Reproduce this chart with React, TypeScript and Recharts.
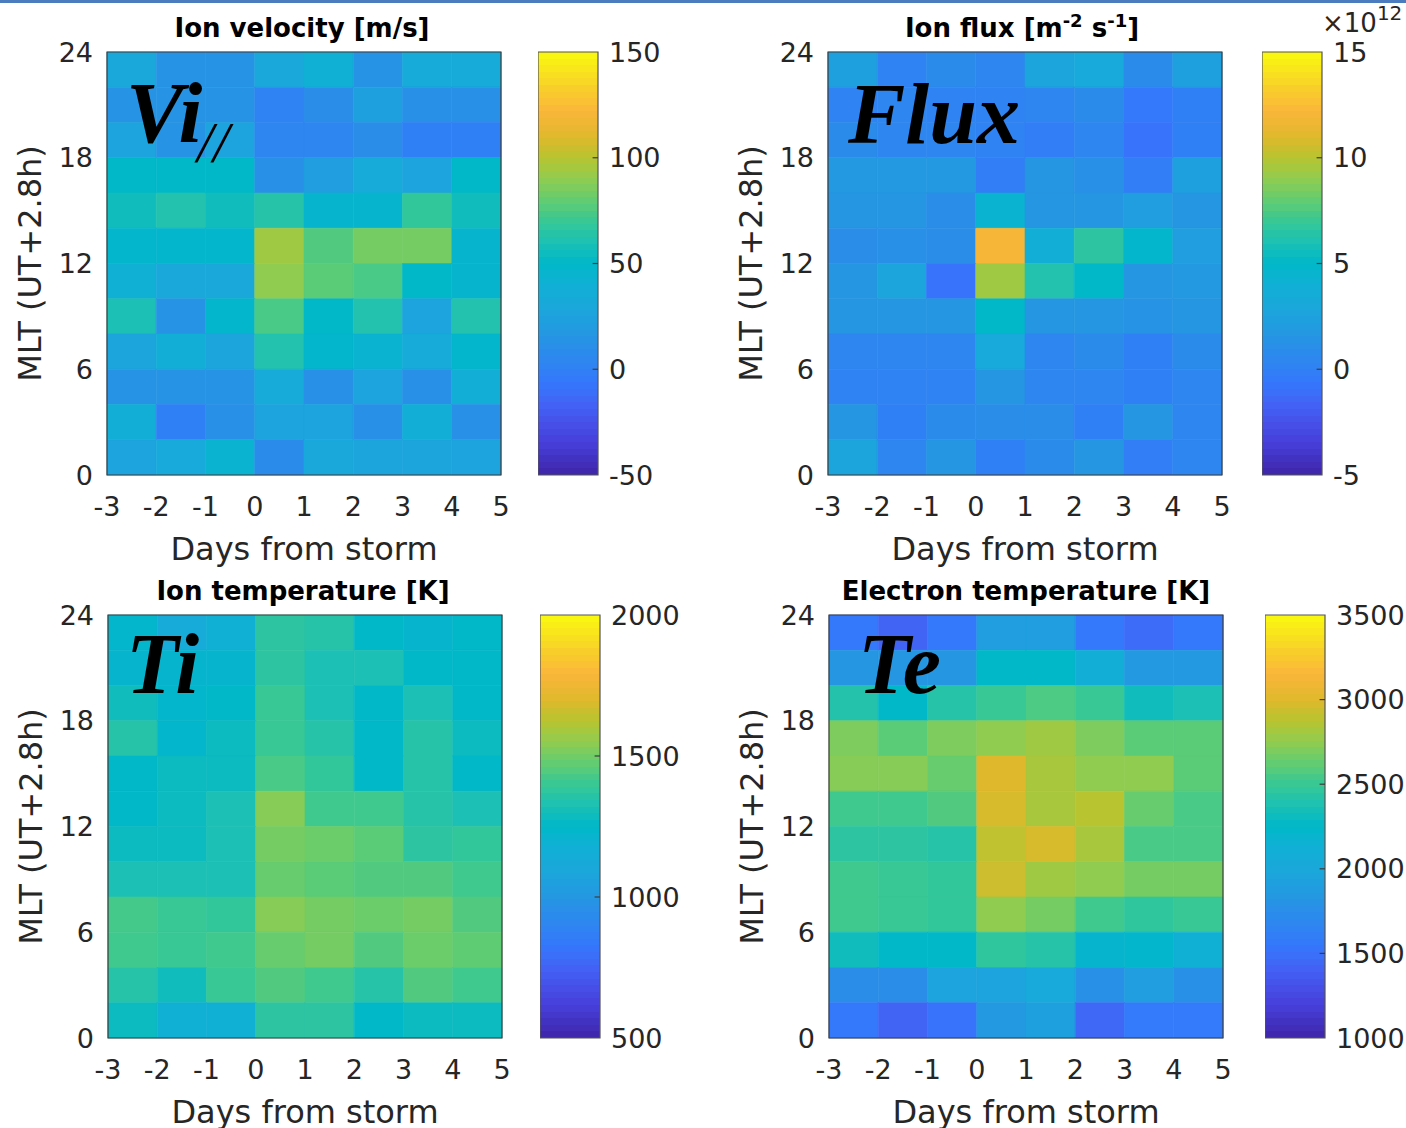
import React from 'react';
import { ComposedChart, XAxis, YAxis, ReferenceArea, ReferenceLine, Scatter, Label } from 'recharts';

// cell edges along x (days) and the MLT start of each row, top row first
const days = [-3, -2, -1, 0, 1, 2, 3, 4, 5];
const mltRows = [22, 20, 18, 16, 14, 12, 10, 8, 6, 4, 2, 0];
const mltTicks = [0, 6, 12, 18, 24];

// Ion velocity [m/s], rows from MLT 22-24 down to 0-2
const ionVelocity = [
  [30, 14, 14, 30, 40, 14, 34, 34],
  [14, 14, 14, 2, 10, 24, 12, 12],
  [26, 14, 26, 4, 4, 10, 0, 0],
  [50, 50, 50, 12, 22, 34, 26, 50],
  [56, 62, 56, 64, 46, 46, 68, 56],
  [48, 48, 48, 94, 76, 84, 84, 46],
  [40, 30, 30, 90, 78, 74, 50, 46],
  [60, 14, 48, 74, 50, 62, 26, 62],
  [28, 38, 28, 62, 48, 44, 34, 48],
  [14, 14, 14, 34, 12, 26, 12, 38],
  [38, 0, 12, 26, 26, 12, 38, 12],
  [26, 32, 44, 8, 30, 28, 28, 26],
];

// Ion flux [1e12 m^-2 s^-1]
const ionFlux = [
  [2.4, 0.2, 0.8, 0.4, 2.8, 3.2, 0.8, 2.4],
  [0.2, 0.4, 0.2, 0.2, 0.4, 0.8, -0.6, 0],
  [0.8, 0.4, 0.4, 0.2, -0.2, 0.4, -0.8, 0],
  [1.8, 1.8, 1.8, -0.2, 1.6, 1.2, -0.2, 2.4],
  [1.6, 1.6, 1.0, 4.4, 1.6, 1.6, 2.2, 1.6],
  [1.0, 1.2, 1.0, 12, 3.8, 6.6, 4.8, 2.2],
  [1.6, 2.8, -0.8, 9.4, 6.2, 5.0, 1.6, 1.8],
  [1.6, 1.6, 1.6, 5.0, 1.6, 1.6, 1.4, 1.6],
  [0.4, 0.4, 0.4, 3.2, 0.4, 0.8, 0, 0.8],
  [0.2, 0.2, 0.2, 1.6, 0.4, 0.4, 0, 0.4],
  [1.6, 0, 0.8, 1.0, 1.0, 0, 1.6, 0.4],
  [2.8, 0.4, 1.6, 0, 0.8, 1.6, -0.2, 0.4],
];

// Ion temperature [K]
const ionTemp = [
  [1235, 1130, 1175, 1370, 1355, 1250, 1220, 1250],
  [1220, 1220, 1220, 1370, 1325, 1325, 1250, 1250],
  [1295, 1235, 1250, 1400, 1325, 1250, 1325, 1250],
  [1355, 1235, 1280, 1400, 1355, 1250, 1355, 1280],
  [1250, 1280, 1280, 1430, 1385, 1250, 1355, 1250],
  [1250, 1280, 1325, 1535, 1415, 1415, 1355, 1325],
  [1280, 1280, 1325, 1505, 1490, 1460, 1370, 1385],
  [1325, 1325, 1325, 1482, 1460, 1445, 1445, 1415],
  [1422, 1400, 1385, 1535, 1505, 1490, 1505, 1445],
  [1415, 1400, 1415, 1482, 1505, 1445, 1490, 1468],
  [1355, 1295, 1400, 1445, 1415, 1355, 1445, 1415],
  [1280, 1175, 1175, 1370, 1370, 1250, 1280, 1280],
];

// Electron temperature [K]
const elecTemp = [
  [1550, 1425, 1550, 1900, 1900, 1550, 1475, 1550],
  [1825, 1825, 1825, 2250, 2250, 2100, 1850, 1850],
  [2412, 2250, 2425, 2500, 2562, 2500, 2325, 2375],
  [2700, 2600, 2700, 2750, 2800, 2700, 2600, 2600],
  [2725, 2725, 2637, 3000, 2825, 2750, 2750, 2600],
  [2525, 2525, 2575, 2975, 2825, 2875, 2637, 2550],
  [2450, 2450, 2425, 2900, 2975, 2825, 2550, 2550],
  [2525, 2500, 2475, 2937, 2800, 2750, 2675, 2675],
  [2525, 2500, 2475, 2750, 2675, 2525, 2462, 2500],
  [2325, 2250, 2250, 2462, 2425, 2200, 2225, 2125],
  [1750, 1750, 1950, 1950, 2025, 1775, 1900, 1775],
  [1550, 1425, 1525, 1850, 1925, 1450, 1575, 1575],
];

const velTicks = [-50, 0, 50, 100, 150];
const fluxTicks = [-5, 0, 5, 10, 15];
const tiTicks = [500, 1000, 1500, 2000];
const teTicks = [1000, 1500, 2000, 2500, 3000, 3500];

// parula-like colormap
const STOPS = [
  [0.0, 62, 38, 168],
  [0.08, 71, 63, 220],
  [0.16, 68, 96, 244],
  [0.22, 52, 120, 252],
  [0.27, 46, 134, 240],
  [0.33, 37, 150, 226],
  [0.4, 26, 168, 219],
  [0.45, 16, 176, 213],
  [0.5, 0, 184, 200],
  [0.55, 28, 192, 180],
  [0.6, 56, 200, 149],
  [0.65, 98, 204, 112],
  [0.7, 144, 204, 80],
  [0.75, 184, 196, 48],
  [0.8, 224, 184, 44],
  [0.86, 250, 182, 58],
  [0.92, 248, 210, 40],
  [1.0, 249, 251, 14],
];

function parula(t: number) {
  const f = Math.max(0, Math.min(1, t));
  for (let i = 1; i < STOPS.length; i++) {
    if (f <= STOPS[i][0]) {
      const a = STOPS[i - 1];
      const b = STOPS[i];
      const k = (f - a[0]) / (b[0] - a[0]);
      const c = [1, 2, 3].map((j) => Math.round(a[j] + (b[j] - a[j]) * k));
      return `rgb(${c[0]},${c[1]},${c[2]})`;
    }
  }
  return 'rgb(249,251,14)';
}

const TEXT = '#262626';
const tickStyle = { fontSize: 27, fill: TEXT, fontFamily: 'DejaVu Sans' };

const xLabel = (props: any) => {
  const vb = props.viewBox;
  return (
    <text x={vb.x + vb.width / 2} y={vb.y + 85} textAnchor="middle" fontSize={32} fill={TEXT} fontFamily="DejaVu Sans">
      Days from storm
    </text>
  );
};

const yLabel = (props: any) => {
  const vb = props.viewBox;
  const x = vb.x + 41;
  const y = vb.y + vb.height / 2;
  return (
    <text x={x} y={y} transform={`rotate(-90 ${x} ${y})`} textAnchor="middle" fontSize={32} fill={TEXT} fontFamily="DejaVu Sans">
      MLT (UT+2.8h)
    </text>
  );
};

function Heatmap({ plotX, plotY, values, lo, hi }: { plotX: number; plotY: number; values: number[][]; lo: number; hi: number }) {
  const cells: any[] = [];
  values.forEach((row, r) =>
    row.forEach((v, c) =>
      cells.push({
        x1: days[c],
        x2: days[c + 1],
        y1: mltRows[r],
        y2: mltRows[r] + 2,
        xc: (days[c] + days[c + 1]) / 2,
        yc: mltRows[r] + 1,
        color: parula((v - lo) / (hi - lo)),
      })
    )
  );
  return (
    <div style={{ position: 'absolute', left: plotX - 107, top: plotY - 52 }}>
      <ComposedChart width={107 + 394 + 10} height={580} margin={{ top: 52, right: 10, bottom: 0, left: 0 }} data={cells}>
        <XAxis type="number" dataKey="xc" domain={[-3, 5]} ticks={days} interval={0} allowDataOverflow height={105}
          tickSize={0} tickMargin={22} axisLine={false} tickLine={false} tick={tickStyle}>
          <Label content={xLabel} />
        </XAxis>
        <YAxis type="number" dataKey="yc" domain={[0, 24]} ticks={mltTicks} interval={0} allowDataOverflow width={107}
          tickSize={0} tickMargin={14} axisLine={false} tickLine={false} tick={tickStyle}>
          <Label content={yLabel} />
        </YAxis>
        {cells.map((c, i) => (
          <ReferenceArea key={i} x1={c.x1} x2={c.x2} y1={c.y1} y2={c.y2} fill={c.color} fillOpacity={1}
            stroke={c.color} strokeWidth={0.6} ifOverflow="visible" />
        ))}
        <ReferenceArea x1={-3} x2={5} y1={0} y2={24} fill="none" fillOpacity={0} stroke="#3c3c3c" strokeWidth={1.2} ifOverflow="visible" />
        <Scatter dataKey="yc" fill="none" shape={() => <g />} isAnimationActive={false} />
      </ComposedChart>
    </div>
  );
}

function ColorBar({ x, plotY, lo, hi, ticks }: { x: number; plotY: number; lo: number; hi: number; ticks: number[] }) {
  const n = 64;
  const steps = Array.from({ length: n }, (_, i) => ({
    y1: lo + ((hi - lo) * i) / n,
    y2: lo + ((hi - lo) * (i + 1)) / n,
    color: parula((i + 0.5) / n),
  }));
  return (
    <div style={{ position: 'absolute', left: x, top: plotY - 52 }}>
      <ComposedChart width={60 + 90} height={580} margin={{ top: 52, right: 0, bottom: 105, left: 0 }} data={[{ x: 0.5, y: lo }]}>
        <XAxis type="number" dataKey="x" domain={[0, 1]} hide />
        <YAxis type="number" orientation="right" domain={[lo, hi]} ticks={ticks} interval={0} allowDataOverflow width={90}
          tickSize={0} tickMargin={11} axisLine={false} tickLine={false} tick={tickStyle} />
        {steps.map((s, i) => (
          <ReferenceArea key={i} x1={0} x2={1} y1={s.y1} y2={s.y2} fill={s.color} fillOpacity={1} stroke="none"
            shapeRendering="crispEdges" ifOverflow="visible" />
        ))}
        {ticks.slice(1, -1).map((t) => (
          <ReferenceLine key={t} segment={[{ x: 0.91, y: t }, { x: 1, y: t }]} stroke="#3c3c3c" strokeWidth={1.2} ifOverflow="visible" />
        ))}
        <ReferenceArea x1={0} x2={1} y1={lo} y2={hi} fill="none" fillOpacity={0} stroke="#555" strokeWidth={1.2} ifOverflow="visible" />
        <Scatter dataKey="y" fill="none" shape={() => <g />} isAnimationActive={false} />
      </ComposedChart>
    </div>
  );
}

const bigLabel = { fontFamily: 'Liberation Serif', fontStyle: 'italic', fontWeight: 'bold' } as const;

export default function App() {
  return (
    <div style={{ position: 'absolute', left: 0, top: 0, width: 1406, height: 1128, background: '#fff', overflow: 'hidden', fontFamily: 'DejaVu Sans' }}>
      <div style={{ position: 'absolute', left: 0, top: 0, width: 1406, height: 3, background: '#4b7dbe' }} />

      <Heatmap plotX={107} plotY={52} values={ionVelocity} lo={-50} hi={150} />
      <ColorBar x={538} plotY={52} lo={-50} hi={150} ticks={velTicks} />

      <Heatmap plotX={828} plotY={52} values={ionFlux} lo={-5} hi={15} />
      <ColorBar x={1262} plotY={52} lo={-5} hi={15} ticks={fluxTicks} />

      <Heatmap plotX={108} plotY={615} values={ionTemp} lo={500} hi={2000} />
      <ColorBar x={540} plotY={615} lo={500} hi={2000} ticks={tiTicks} />

      <Heatmap plotX={829} plotY={615} values={elecTemp} lo={1000} hi={3500} />
      <ColorBar x={1265} plotY={615} lo={1000} hi={3500} ticks={teTicks} />

      <svg width={1406} height={1128} style={{ position: 'absolute', left: 0, top: 0, pointerEvents: 'none' }}>
        <g fontFamily="DejaVu Sans" fontWeight="bold" fontSize={26} fill="#000" textAnchor="middle">
          <text x={302} y={37}>Ion velocity [m/s]</text>
          <text x={1022} y={37}>
            Ion flux [m<tspan dy={-10} fontSize={18}>-2</tspan>
            <tspan dy={10}> s</tspan>
            <tspan dy={-10} fontSize={18}>-1</tspan>
            <tspan dy={10}>]</tspan>
          </text>
          <text x={303} y={600}>Ion temperature [K]</text>
          <text x={1026} y={600}>Electron temperature [K]</text>
        </g>
        <text x={1322} y={32} fontSize={26} fill={TEXT} fontFamily="DejaVu Sans">
          ×10<tspan dy={-12} fontSize={20}>12</tspan>
        </text>
        <g fill="#000" style={bigLabel}>
          <text x={126} y={142} fontSize={86}>Vi</text>
          <text x={197} y={162} fontSize={58} fontWeight="normal">//</text>
          <text x={848} y={143} fontSize={86}>Flux</text>
          <text x={126} y={693} fontSize={86}>Ti</text>
          <text x={858} y={693} fontSize={86}>Te</text>
        </g>
      </svg>
    </div>
  );
}
